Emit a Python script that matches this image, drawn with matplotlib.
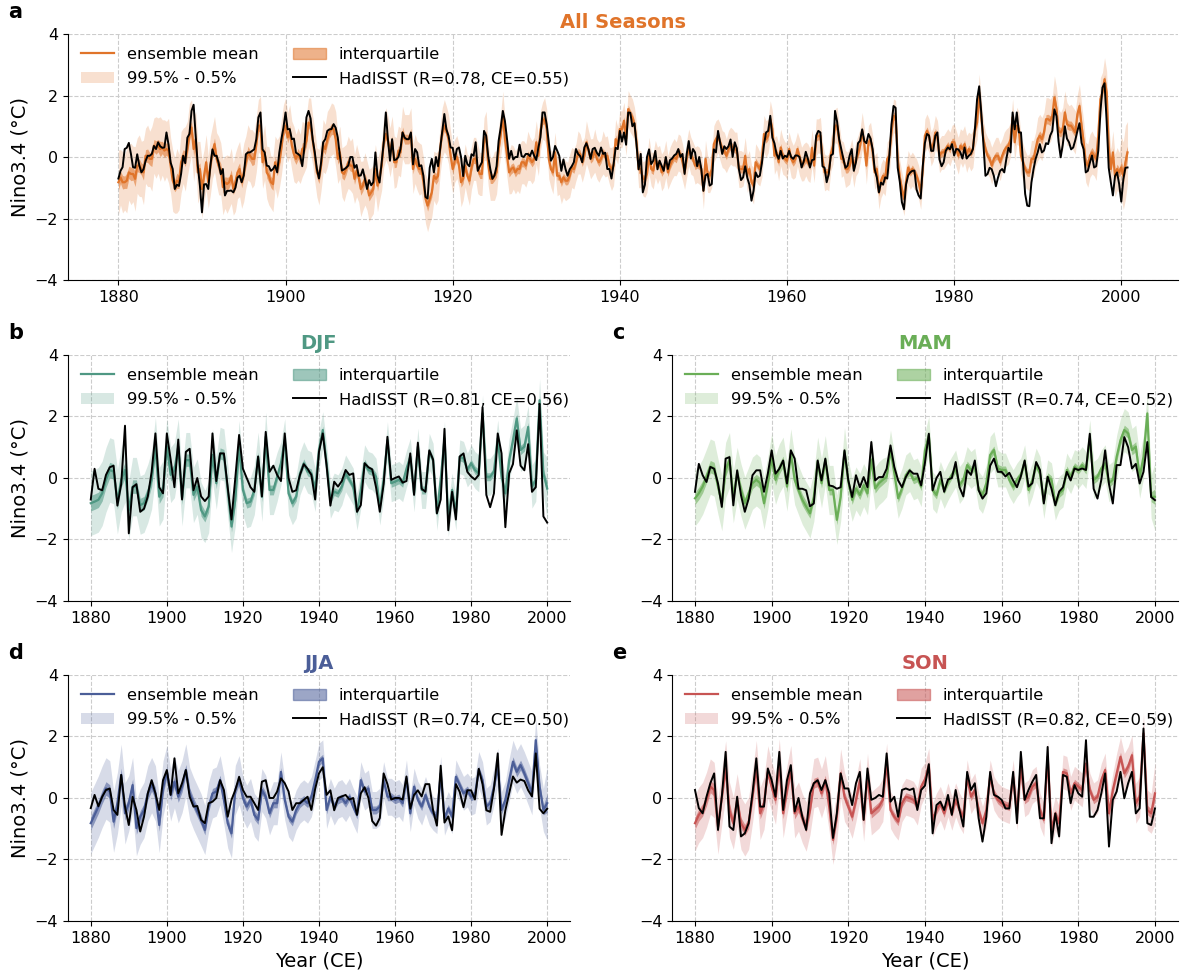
import numpy as np
import matplotlib.pyplot as plt
from matplotlib.patches import Patch
from matplotlib.lines import Line2D

# Nino3.4 reconstruction vs HadISST, seasonal means 1880-2000
years = np.arange(1880, 2001)

djf_mean = [-0.82, -0.77, -0.71, -0.5, -0.06, 0.26, 0.21, -0.77, -0.06, 0.26,
            -1.04, -0.28, -0.28, -0.88, -0.82, -0.5, -0.06, 1.02, -0.61, -0.39,
            1.02, 0.1, 0.26, 1.02, -0.66, 0.58, 0.58, -0.55, -0.28, -1.04,
            -1.25, -0.93, 0.75, -0.17, 0.8, 0.75, -0.39, -1.58, -0.71, 1.02,
            -0.39, -0.82, -0.77, -0.39, 0.69, -0.61, 1.34, -0.39, -0.39, 0.04,
            0.48, 1.23, -0.5, -0.82, -0.61, 0.15, 0.48, 0.21, 0.15, -0.39,
            0.91, 1.56, 0.48, -0.71, -0.44, -0.5, -0.28, 0.15, -0.06, -0.28,
            -1.09, -0.39, 0.48, 0.26, 0.21, 0.04, -0.93, -0.06, 1.23, -0.17,
            -0.12, -0.06, -0.17, 0.3, 0.69, -0.5, 1.02, -0.39, -0.39, 0.85,
            0.58, -1.15, -0.06, 1.29, -1.36, -0.39, -1.15, 0.69, 0.64, 0.26,
            0.48, 0.26, 0.15, 2.1, 0.04, 0.04, 0.21, 1.29, 0.04, -0.5,
            0.58, 1.23, 1.94, 0.91, 1.02, 1.66, -0.28, -0.06, 2.53, 0.15, -0.34]
djf_had = [-0.7, 0.3, -0.35, -0.4, 0.1, 0.35, 0.4, -0.9, -0.2, 1.7,
           -1.8, -0.3, -0.2, -1.1, -1.0, -0.6, 0.2, 1.45, -0.3, -0.5,
           1.45, 0.6, -0.3, 1.25, -0.7, 0.85, 0.95, -0.4, 0.0, -0.6,
           -0.75, -0.6, 1.45, -0.1, 0.8, 0.8, -0.3, -1.35, 0.0, 1.4,
           0.3, 0.0, -0.3, -0.45, 0.7, -0.6, 1.5, 0.2, 0.4, 0.1,
           -0.1, 1.45, 0.0, -0.45, -0.4, 0.1, 0.45, 0.3, 0.1, -0.7,
           0.85, 1.45, 0.4, -0.9, -0.12, -0.28, -0.1, 0.26, 0.1, 0.15,
           -1.1, -0.88, 0.48, 0.35, 0.28, -0.3, -1.1, -0.2, 1.34, -0.06,
           0.0, 0.05, -0.15, -0.1, 0.8, -0.55, 1.15, -0.35, -0.45, 0.9,
           0.6, -1.15, -0.7, 1.6, -1.7, -0.45, -1.35, 0.7, 0.8, 0.2,
           0.05, -0.05, 0.1, 2.3, -0.55, -0.95, -0.5, 1.45, 0.8, -1.6,
           0.15, 0.45, 1.55, 0.4, 0.25, 1.1, -0.45, -0.3, 2.4, -1.25, -1.45]

mam_mean = [-0.66, -0.5, -0.28, 0.04, 0.37, 0.31, -0.28, -0.82, 0.26, 0.58,
            -0.61, 0.15, -0.39, -0.82, -0.5, -0.17, -0.06, -0.17, -0.82, -0.17,
            0.64, -0.06, 0.31, 0.53, -0.28, 0.8, -0.06, -0.39, -0.71, -0.93,
            -1.15, -0.61, 0.53, -0.17, 0.58, -0.39, -0.39, -1.36, -0.61, 0.85,
            -0.12, -0.71, -0.34, -0.55, -0.23, -0.5, 0.6, -0.34, -0.17, -0.06,
            0.04, 0.91, 0.15, -0.66, -0.34, 0.1, 0.21, -0.06, 0.0, -0.28,
            0.9, 1.4, -0.4, -0.55, -0.06, -0.39, -0.12, 0.1, 0.31, -0.23,
            -0.06, 0.42, 0.26, 0.37, -0.39, -0.55, -0.17, 0.75, 0.91, 0.31,
            0.26, 0.26, -0.06, -0.28, -0.06, 0.1, 0.53, -0.39, -0.06, 0.42,
            0.15, -0.77, 0.04, -0.06, -0.82, -0.5, -0.39, 0.26, 0.04, 0.37,
            0.26, 0.42, 0.26, 1.29, -0.06, 0.04, 0.31, 0.48, -0.17, -0.06,
            0.69, 1.23, 1.56, 1.45, 0.91, 1.02, 0.04, 0.69, 2.1, -0.61, -0.61]
mam_had = [-0.45, 0.46, 0.09, -0.13, 0.36, 0.3, -0.18, -0.94, 0.63, 0.68,
           -0.89, 0.25, -0.56, -1.1, -0.67, 0.09, 0.25, 0.25, -0.45, 0.14,
           0.9, 0.14, 0.3, 0.57, -0.18, 0.9, 0.63, -0.35, -0.35, -0.4,
           -0.92, -0.83, 0.57, -0.08, 0.63, -0.24, -0.27, -0.35, -0.3, 0.9,
           -0.08, -0.62, 0.09, -0.3, 0.03, -0.3, 1.17, -0.08, 0.03, 0.03,
           0.3, 1.06, 0.36, -0.08, -0.3, 0.03, 0.25, 0.14, 0.14, -0.24,
           0.5, 1.44, -0.4, 0.0, 0.2, -0.45, -0.05, 0.0, 0.52, -0.3,
           -0.6, 0.25, 0.1, 0.57, -0.4, -0.67, -0.5, 0.4, 0.63, 0.2,
           0.2, 0.05, 0.17, -0.08, -0.3, 0.05, 0.57, -0.28, -0.17, 0.52,
           0.26, -0.83, 0.04, -0.35, -0.89, -0.44, -0.3, 0.2, -0.08, 0.31,
           0.26, 0.31, 0.26, 1.44, -0.35, -0.67, -0.06, 0.9, -0.2, -0.83,
           0.42, 0.42, 1.33, 1.0, 0.31, 0.46, -0.18, 0.2, 1.17, -0.62, -0.72]

jja_mean = [-0.82, -0.55, -0.28, 0.04, 0.31, 0.21, -0.77, -0.17, 0.75, -0.5,
            -0.17, 0.42, -0.98, -0.61, -0.39, 0.15, 0.42, 0.15, -0.88, 0.31,
            0.85, 0.1, 0.53, 0.04, 0.37, 0.91, 0.15, -0.17, -0.44, -0.71,
            -1.04, -0.28, 0.15, 0.21, 0.58, -0.06, -0.82, -1.15, 0.26, 0.58,
            0.0, -0.28, -0.06, -0.55, -0.71, 0.26, 0.04, -0.5, -0.17, -0.17,
            0.85, -0.06, -0.61, -0.77, -0.39, -0.17, -0.06, -0.17, 0.04, 0.58,
            1.18, 1.29, -0.39, 0.04, -0.28, -0.06, 0.0, -0.17, 0.04, -0.28,
            -0.55, 0.58, 0.21, 0.31, -0.39, -0.39, -0.28, 0.58, 0.04, 0.04,
            -0.06, 0.0, -0.17, 0.64, -0.5, 0.37, -0.06, -0.28, 0.1, -0.28,
            -0.5, -0.61, 0.8, -0.66, -0.34, -0.61, 0.69, 0.42, 0.15, 0.26,
            0.04, 0.1, 0.91, 0.58, -0.28, -0.17, 0.37, 1.02, -0.39, -0.06,
            0.58, 1.18, 0.85, 1.07, 0.8, 0.48, 0.15, 1.88, 0.37, -0.39, -0.17]
jja_had = [-0.33, 0.1, -0.27, 0.04, 0.26, 0.31, -0.39, -0.55, 0.75, -0.28,
           -0.88, 0.04, -0.39, -1.09, -0.61, 0.15, 0.58, 0.15, -0.39, 0.58,
           0.91, 0.1, 1.29, 0.15, 0.48, 0.91, 0.04, -0.28, -0.26, -0.71,
           -0.82, -0.17, -0.12, 0.0, 0.58, 0.26, -0.61, -0.06, 0.26, 0.69,
           0.26, 0.04, 0.04, -0.17, -0.39, 0.53, 0.58, 0.0, 0.0, 0.21,
           0.64, 0.48, 0.21, -0.39, -0.17, -0.17, -0.06, 0.04, -0.39, 0.3,
           0.8, 1.0, 0.1, 0.25, -0.4, 0.0, 0.05, 0.1, -0.05, 0.0,
           -0.55, 0.15, 0.35, 0.0, -0.75, -0.9, -0.65, 0.8, 0.45, -0.05,
           0.0, 0.0, -0.05, 0.7, -0.35, 0.1, 0.25, 0.05, 0.45, 0.45,
           -0.4, -0.9, 1.05, -0.8, -0.6, -1.05, 0.45, 0.2, -0.3, 0.25,
           0.25, -0.05, 0.95, 0.45, -0.4, -0.45, 0.3, 1.45, -1.2, -0.4,
           0.15, 0.7, 0.5, 0.6, 0.55, 0.25, 0.05, 1.45, -0.35, -0.5, -0.35]

son_mean = [-0.82, -0.55, -0.39, -0.06, 0.37, 0.26, -0.93, 0.04, 0.96, -0.39,
            -0.82, -0.06, -0.82, -1.04, -0.82, 0.04, 1.02, -0.5, -0.17, 0.85,
            0.37, -0.06, 1.12, -0.5, 0.26, 0.91, -0.5, -0.28, -0.66, -0.93,
            -0.39, 0.48, 0.53, 0.15, 0.58, -0.28, -1.36, -0.61, 0.8, 0.04,
            -0.28, -0.61, -0.06, 0.58, -0.71, 0.75, -0.5, -0.39, -0.28, -0.06,
            1.18, -0.39, -0.61, -0.77, -0.17, 0.04, 0.0, -0.06, -0.28, 0.37,
            0.6, 1.07, -0.71, -0.39, -0.17, -0.5, -0.06, -0.5, -0.06, -0.39,
            -0.61, 0.69, 0.04, 0.26, -0.39, -0.82, -0.39, 0.69, 0.15, -0.06,
            -0.17, -0.23, -0.28, 0.69, -0.5, 1.02, -0.06, 0.04, 0.37, 0.48,
            -0.39, -0.71, 1.34, -1.04, -0.5, -0.82, 0.85, 0.8, 0.15, 0.48,
            0.37, 0.26, 1.12, 0.26, -0.06, 0.04, 0.58, 0.91, -0.5, 0.26,
            0.8, 1.34, 0.8, 1.02, 1.39, -0.17, 0.04, 2.1, -0.39, -0.5, 0.15]
son_had = [0.26, -0.33, -0.5, 0.04, 0.48, 0.8, -1.04, 0.04, 1.5, -0.93,
           -1.04, 0.04, -1.25, -1.15, -0.82, 0.15, 1.29, -0.28, -0.28, 0.96,
           0.58, 0.04, 1.5, -0.39, 0.58, 1.07, -0.44, 0.0, -0.61, -1.04,
           0.15, 0.48, 0.58, 0.26, 0.58, 0.15, -1.3, -0.5, 0.8, 0.31,
           0.31, -0.23, 0.48, 0.85, -0.71, 0.96, -0.06, 0.0, 0.1, 0.04,
           1.45, -0.12, 0.04, -0.61, 0.26, 0.31, 0.26, 0.31, -0.39, 0.26,
           0.4, 1.1, -1.15, -0.23, -0.12, -0.39, 0.1, -0.55, 0.26, -0.39,
           -0.93, 0.85, 0.26, 0.48, -0.66, -1.42, -0.61, 0.85, 0.1, 0.04,
           -0.06, -0.34, -0.34, 0.85, -0.82, 1.5, -0.06, 0.26, 0.53, 0.75,
           -0.66, -0.66, 1.66, -1.47, -0.5, -1.25, 0.75, 0.69, -0.17, 0.42,
           0.15, 0.04, 1.88, -0.61, -0.61, -0.39, 0.15, 0.8, -1.58, -0.06,
           0.21, 0.85, -0.01, 0.48, 0.85, -0.5, -0.34, 2.26, -0.82, -0.88, -0.34]

# half widths of the ensemble bands, per decade (1880s ... 1990s, 2000)
djf_wide = [1.05, 0.95, 0.9, 0.85, 0.8, 0.7, 0.6, 0.6, 0.6, 0.55, 0.6, 0.7, 1.0]
djf_iqr = [0.25, 0.22, 0.2, 0.18, 0.16, 0.14, 0.13, 0.13, 0.13, 0.13, 0.13, 0.15, 0.2]
mam_wide = [0.9, 0.85, 0.8, 0.8, 0.7, 0.65, 0.6, 0.6, 0.55, 0.55, 0.6, 0.7, 1.1]
mam_iqr = [0.2, 0.18, 0.18, 0.16, 0.15, 0.13, 0.13, 0.13, 0.13, 0.13, 0.13, 0.16, 0.25]
jja_wide = [1.0, 0.9, 0.85, 0.8, 0.7, 0.65, 0.6, 0.6, 0.6, 0.55, 0.6, 0.7, 1.2]
jja_iqr = [0.22, 0.2, 0.18, 0.16, 0.15, 0.14, 0.13, 0.13, 0.13, 0.13, 0.13, 0.16, 0.3]
son_wide = [0.9, 0.85, 0.8, 0.8, 0.7, 0.6, 0.55, 0.55, 0.55, 0.55, 0.55, 0.65, 1.0]
son_iqr = [0.2, 0.18, 0.18, 0.16, 0.15, 0.13, 0.13, 0.13, 0.13, 0.13, 0.13, 0.15, 0.2]

seasons = ["DJF", "MAM", "JJA", "SON"]
season_offset = [0.0, 0.25, 0.5, 0.75]
stats = ["(R=0.78, CE=0.55)", "(R=0.81, CE=0.56)", "(R=0.74, CE=0.52)",
         "(R=0.74, CE=0.50)", "(R=0.82, CE=0.59)"]
colors = ["#E0742A", "#4F9883", "#6AAE57", "#4B5E98", "#C75453"]

reps = [10] * 12 + [1]


def expand(w):
    return np.repeat(np.array(w), reps)


series = {
    "DJF": (djf_mean, djf_had, djf_wide, djf_iqr),
    "MAM": (mam_mean, mam_had, mam_wide, mam_iqr),
    "JJA": (jja_mean, jja_had, jja_wide, jja_iqr),
    "SON": (son_mean, son_had, son_wide, son_iqr),
}

panels = []
for s in seasons:
    m, h, w, q = series[s]
    panels.append((years.astype(float), np.array(m), np.array(h), expand(w), expand(q)))

# all seasons: the four seasons in time order
t_all = (years[:, None] + np.array(season_offset)[None, :]).ravel()
stack = lambda k: np.column_stack([p[k] for p in panels]).ravel()
panels.insert(0, (t_all, stack(1), stack(2), stack(3), stack(4)))

fig = plt.figure(figsize=(11.9, 9.75), dpi=100)
boxes = [
    [0.0571, 0.7128, 0.9328, 0.2523],
    [0.0571, 0.3836, 0.4219, 0.2523],
    [0.5647, 0.3836, 0.4252, 0.2523],
    [0.0571, 0.0554, 0.4219, 0.2523],
    [0.5647, 0.0554, 0.4252, 0.2523],
]
titles = ["All Seasons"] + seasons
letters = ["a", "b", "c", "d", "e"]

for i, (t, m, h, w, q) in enumerate(panels):
    ax = fig.add_axes(boxes[i])
    c = colors[i]
    ax.fill_between(t, m - w, m + w, color=c, alpha=0.22, lw=0)
    ax.fill_between(t, m - q, m + q, color=c, alpha=0.55, lw=0)
    ax.plot(t, m, color=c, lw=1.6)
    ax.plot(t, h, color="black", lw=1.4)

    ax.set_ylim(-4, 4)
    ax.set_yticks([-4, -2, 0, 2, 4])
    ax.set_xticks(np.arange(1880, 2001, 20))
    ax.tick_params(labelsize=11.5)
    ax.grid(True, ls="--", color="#cccccc", lw=0.8)
    ax.set_axisbelow(True)
    for sp in ["top", "right"]:
        ax.spines[sp].set_visible(False)

    ax.set_title(titles[i], color=c, fontsize=14, fontweight="bold", pad=4)
    if i in (0, 1, 3):
        ax.set_ylabel("Nino3.4 (°C)", fontsize=14)
    if i in (3, 4):
        ax.set_xlabel("Year (CE)", fontsize=14)

    handles = [
        Line2D([], [], color=c, lw=1.6),
        Patch(facecolor=c, alpha=0.22, lw=0),
        Patch(facecolor=c, alpha=0.55, edgecolor=c),
        Line2D([], [], color="black", lw=1.4),
    ]
    labels = ["ensemble mean", "99.5% - 0.5%", "interquartile", "HadISST " + stats[i]]
    ax.legend(handles, labels, loc="upper left", ncol=2, frameon=False,
              fontsize=11.8, borderaxespad=0.4, columnspacing=2.1,
              handlelength=2.0, labelspacing=0.55)

    bx = boxes[i]
    fig.text(bx[0] - 0.05, bx[1] + bx[3] + 0.012, letters[i], fontsize=15,
             fontweight="bold", ha="left", va="bottom")

plt.savefig("out.png", dpi=100)
